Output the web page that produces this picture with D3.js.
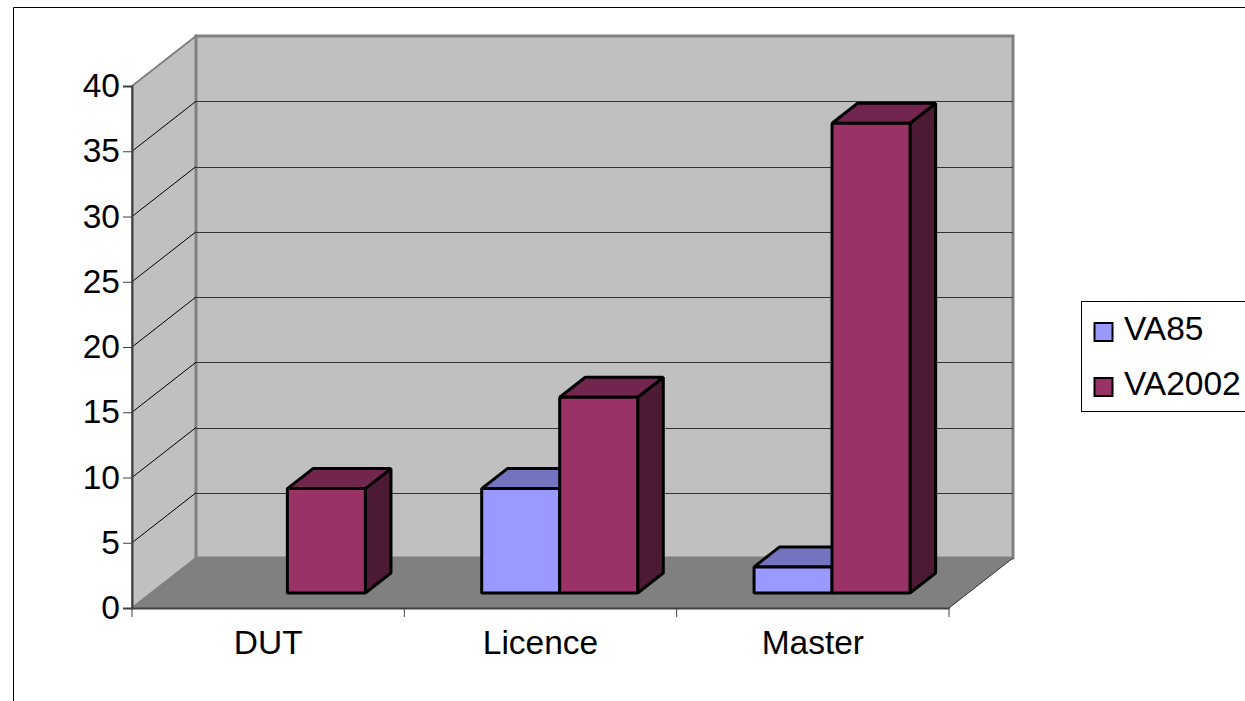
<!DOCTYPE html>
<html>
<head>
<meta charset="utf-8">
<script src="https://cdn.jsdelivr.net/npm/d3@7"></script>
<style>
  html, body { margin: 0; padding: 0; background: #fff; overflow: hidden; }
  svg { display: block; }
  text { font-family: "Liberation Sans", Arial, sans-serif; fill: #000; }
</style>
</head>
<body>
<svg></svg>
<script>
//Chart Data
const categories = ["DUT", "Licence", "Master"];
const seriesNames = ["VA85", "VA2002"];
const va85 = [0, 8, 2];
const va2002 = [8, 15, 36];
const yTicks = [0, 5, 10, 15, 20, 25, 30, 35, 40];

const w = 1245;
const h = 701;
const fontSize = 33.5;

//Scale Setup
const xScale = d3.scaleBand().domain(categories).range([132, 949]);
const yScale = d3.scaleLinear().domain([0, 40]).range([608, 86]);
const seriesScale = d3.scaleBand().domain(seriesNames).range([-78, 78]);
const colorScale = d3.scaleOrdinal().domain(seriesNames).range(["#9999FF", "#993366"]);
const topScale = d3.scaleOrdinal().domain(seriesNames).range(["#7373BF", "#73264D"]);
const sideScale = d3.scaleOrdinal().domain(seriesNames).range(["#4D4D80", "#4D1A33"]);

//Depth of the fake 3D box, 0 = front of the floor, 1 = back wall
const depthX = d3.scaleLinear().domain([0, 1]).range([0, 64]);
const depthY = d3.scaleLinear().domain([0, 1]).range([0, -50]);
const barFront = 0.3;
const barBack = 0.7;

const [xLeft, xRight] = xScale.range();
const yZero = yScale(0);
const yMax = yScale(40);
const backX = depthX(1);
const backY = depthY(1);

const pts = (arr) => arr.map((p) => p.join(",")).join(" ");

const chart = d3.select("svg").attr("width", w).attr("height", h);

//Outer frame, runs off the page on the right and bottom
chart.append("path")
     .attr("d", `M13.5,${h + 2}V7.5H${w + 2}`)
     .attr("fill", "none")
     .attr("stroke", "#000")
     .attr("stroke-width", 1);

//Walls and Floor
chart.append("polygon")
     .attr("points", pts([[xLeft, yMax], [xLeft + backX, yMax + backY], [xLeft + backX, yZero + backY], [xLeft, yZero]]))
     .attr("fill", "#C0C0C0")
     .attr("stroke", "#808080")
     .attr("stroke-width", 2);

chart.append("rect")
     .attr("x", xLeft + backX)
     .attr("y", yMax + backY)
     .attr("width", xRight - xLeft)
     .attr("height", yZero - yMax)
     .attr("fill", "#C0C0C0")
     .attr("stroke", "#808080")
     .attr("stroke-width", 3);

chart.append("polygon")
     .attr("points", pts([[xLeft, yZero], [xLeft + backX, yZero + backY], [xRight + backX, yZero + backY], [xRight, yZero]]))
     .attr("fill", "#808080");

chart.append("line")
     .attr("x1", xRight).attr("y1", yZero)
     .attr("x2", xRight + backX).attr("y2", yZero + backY)
     .attr("stroke", "#333")
     .attr("stroke-width", 1);

//Gridlines
const gridValues = yTicks.filter((d) => d > 0 && d < 40);
chart.selectAll(".grid-side")
     .data(gridValues)
     .enter()
     .append("line")
     .classed("grid-side", true)
     .attr("x1", xLeft)
     .attr("y1", (d) => yScale(d))
     .attr("x2", xLeft + backX)
     .attr("y2", (d) => yScale(d) + backY)
     .attr("stroke", "#000")
     .attr("stroke-width", 1);

chart.selectAll(".grid-back")
     .data(gridValues)
     .enter()
     .append("line")
     .classed("grid-back", true)
     .attr("x1", xLeft + backX)
     .attr("y1", (d) => Math.round(yScale(d) + backY) + 0.5)
     .attr("x2", xRight + backX)
     .attr("y2", (d) => Math.round(yScale(d) + backY) + 0.5)
     .attr("stroke", "#333")
     .attr("stroke-width", 1);

//Axis Setup
const yAxis = d3.axisLeft(yScale).tickValues(yTicks).tickSize(9).tickPadding(3);
chart.append("g")
     .attr("id", "y-axis")
     .attr("transform", `translate(${xLeft}, 0)`)
     .call(yAxis);

const xAxis = d3.axisBottom(xScale).tickSize(0).tickPadding(22);
const xAxisGroup = chart.append("g")
     .attr("id", "x-axis")
     .attr("transform", `translate(0, ${yZero})`)
     .call(xAxis);

chart.selectAll("#y-axis .domain, #x-axis .domain")
     .attr("stroke", "#404040")
     .attr("stroke-width", 2);
chart.selectAll("#y-axis line").attr("stroke", "#404040");
chart.selectAll("#y-axis text, #x-axis text")
     .attr("font-family", '"Liberation Sans", Arial, sans-serif')
     .attr("font-size", fontSize);
xAxisGroup.selectAll("text").attr("dy", "0.71em");

//x ticks sit between the categories
chart.selectAll(".x-tick")
     .data(categories.concat("end"))
     .enter()
     .append("line")
     .classed("x-tick", true)
     .attr("x1", (d, i) => xLeft + i * xScale.step())
     .attr("x2", (d, i) => xLeft + i * xScale.step())
     .attr("y1", yZero)
     .attr("y2", yZero + 9)
     .attr("stroke", "#404040")
     .attr("stroke-width", 1);

//Bars, back to front so that the second series covers the side of the first
const barData = [];
categories.forEach((c, i) => {
  barData.push({ cat: c, series: "VA85", value: va85[i] });
  barData.push({ cat: c, series: "VA2002", value: va2002[i] });
});

const bars = chart.selectAll(".bar")
     .data(barData.filter((d) => d.value > 0))
     .enter()
     .append("g")
     .classed("bar", true)
     .attr("stroke", "#000")
     .attr("stroke-width", 3)
     .attr("stroke-linejoin", "bevel");

const barGeom = (d) => {
  const center = xScale(d.cat) + xScale.bandwidth() / 2;
  const x0 = center + seriesScale(d.series) + depthX(barFront);
  const x1 = x0 + seriesScale.bandwidth();
  const yBottom = yZero + depthY(barFront);
  const yTop = yScale(d.value) + depthY(barFront);
  const dx = depthX(barBack - barFront);
  const dy = depthY(barBack - barFront);
  return { x0, x1, yBottom, yTop, dx, dy };
};

bars.append("polygon")
    .attr("fill", (d) => sideScale(d.series))
    .attr("points", (d) => {
      const g = barGeom(d);
      return pts([[g.x1, g.yTop], [g.x1 + g.dx, g.yTop + g.dy], [g.x1 + g.dx, g.yBottom + g.dy], [g.x1, g.yBottom]]);
    });

bars.append("polygon")
    .attr("fill", (d) => topScale(d.series))
    .attr("points", (d) => {
      const g = barGeom(d);
      return pts([[g.x0, g.yTop], [g.x0 + g.dx, g.yTop + g.dy], [g.x1 + g.dx, g.yTop + g.dy], [g.x1, g.yTop]]);
    });

bars.append("polygon")
    .attr("fill", (d) => colorScale(d.series))
    .attr("points", (d) => {
      const g = barGeom(d);
      return pts([[g.x0, g.yTop], [g.x1, g.yTop], [g.x1, g.yBottom], [g.x0, g.yBottom]]);
    });

//Legend
const legend = chart.append("g").attr("id", "legend");
legend.append("rect")
      .attr("x", 1081.5)
      .attr("y", 301.5)
      .attr("width", 200)
      .attr("height", 110)
      .attr("fill", "#fff")
      .attr("stroke", "#000")
      .attr("stroke-width", 1);

const legendY = d3.scalePoint().domain(seriesNames).range([332, 387]);
legend.selectAll(".swatch")
      .data(seriesNames)
      .enter()
      .append("rect")
      .classed("swatch", true)
      .attr("x", 1094.5)
      .attr("y", (d) => legendY(d) - 9)
      .attr("width", 18)
      .attr("height", 18)
      .attr("fill", (d) => colorScale(d))
      .attr("stroke", "#000")
      .attr("stroke-width", 2);

legend.selectAll(".legend-label")
      .data(seriesNames)
      .enter()
      .append("text")
      .classed("legend-label", true)
      .attr("x", 1124)
      .attr("y", (d) => legendY(d))
      .attr("dy", "0.24em")
      .attr("font-size", fontSize)
      .text((d) => d);
</script>
</body>
</html>
